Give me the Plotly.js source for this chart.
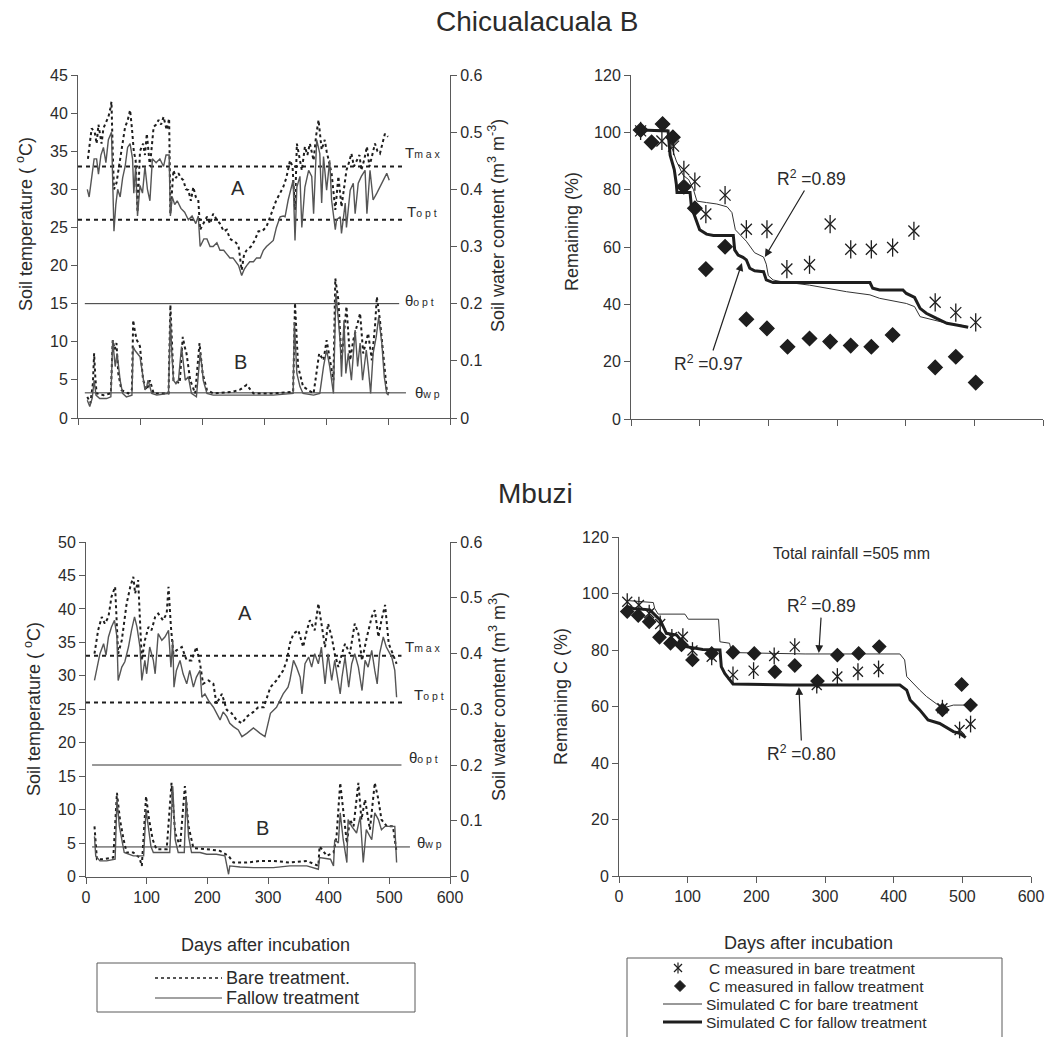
<!DOCTYPE html>
<html><head><meta charset="utf-8">
<script src="https://cdn.plot.ly/plotly-3.0.1.min.js"></script>
<style>html,body{margin:0;padding:0;background:#fff}</style>
</head><body>
<div id="chart" style="width:1049px;height:1037px"></div>
<script>
// ================= DATA =================
// Chicualacuala B - soil temperature (deg C), daily series
const cbTempFallowDays = [15,18,22,26,30,33,37,41,45,49,54,56,58,61,64,68,72,76,80,84,88,90,93,96,100,104,108,112,116,120,126,132,138,142,147,149,152,156,160,166,172,178,184,190,194,197,203,208,213,218,224,229,235,240,245,250,255,259,264,268,272,277,283,288,294,299,304,310,315,320,326,331,334,339,342,347,350,353,358,361,366,372,377,380,385,390,393,396,401,406,409,415,417,423,425,431,433,439,444,447,452,457,463,466,471,476,482,487,493,498,502];
const cbTempFallow = [30,29,31.5,34,34,32,34.5,35.5,33.5,36.5,37.5,30,24.5,28,30,29,31.5,33,35.5,36,34,29.5,33,26.5,30.5,29.5,33,30,28.5,34,33.5,34,33,34.5,34.5,26.5,29,28,28.5,27.5,27,26,26.5,25.5,26.5,22.5,23.5,23.5,22.5,22.5,23,22,22,21.5,21,21,20.5,20,18.7,19.5,20,20.5,20.5,21,21,22,22.5,23,23.3,25,26.4,26.5,26.4,28.6,29.5,31.2,23.3,30.3,31.7,25,30.3,32.5,31.7,26.8,36.5,34.7,28.2,34.3,29.9,33.8,28.6,24.7,26,26.4,24.2,28.2,25,29.9,30.8,26.8,30.8,31.7,32.5,26.8,32.5,28.6,29.5,30.3,31.2,32.1,31.2];
const cbTempBareDays = [16,20,22,27,30,33,38,41,44,49,52,54,56,58,62,65,68,72,76,80,84,87,90,93,96,100,105,108,111,116,119,122,126,130,134,138,143,147,149,152,154,158,162,166,170,174,178,182,186,190,194,197,202,208,213,218,224,229,235,240,245,250,255,259,264,268,272,279,285,291,297,304,310,315,320,326,331,336,342,346,350,353,357,361,366,370,374,377,380,384,388,393,398,401,404,409,415,420,425,429,433,437,441,445,450,454,457,462,466,470,474,479,483,487,491,495,500];
const cbTempBare = [34,36.5,38,37.5,36,38.5,36,38,38.5,39.5,40.5,41.5,35,30,30.8,32.5,34,36.5,38.2,39,40.4,38,35,33.8,27,35,36,34.5,37.3,33,36,38.2,38.5,39.1,38.5,39.5,37.8,39.3,26.8,31,32.5,31.5,32.1,31.5,31.2,30,29.9,28.5,30.3,29,28.6,24.7,25.5,26.4,25.5,26.8,26,25.5,24.5,24.7,23.5,23.3,23,22.5,19.4,21.5,22,22.5,23.3,24.5,24.5,25.1,26.5,27.5,28.6,29.5,30.3,31.5,33.8,33,27.3,36,34,32.5,35.6,34.5,36,35,33.8,37,39.1,35.2,36.5,35,33.8,32.1,27.3,31.7,27.7,30.5,32.5,33.5,34.7,33,33.8,34.5,32.5,34,35.6,33,34.3,36,35,34.7,36,37.3,36.9];
// Chicualacuala B - soil water content (m3 m-3)
const cbWaterFallowDays = [15,19,23,26,29,35,46,53,56,58,60,63,66,68,72,78,87,89,92,95,100,104,108,111,113,119,127,146,149,151,154,158,162,167,170,173,178,183,191,197,200,202,208,218,250,272,294,315,347,349,353,358,363,380,390,396,401,406,412,416,420,423,425,429,432,436,441,447,451,455,459,465,468,472,476,481,485,490,494,498,501];
const cbWaterFallow = [0.031,0.02,0.035,0.066,0.04,0.034,0.034,0.037,0.136,0.105,0.09,0.113,0.085,0.066,0.043,0.037,0.04,0.125,0.118,0.113,0.107,0.078,0.049,0.056,0.066,0.043,0.04,0.043,0.177,0.12,0.066,0.06,0.066,0.125,0.09,0.066,0.072,0.043,0.037,0.113,0.09,0.066,0.043,0.04,0.04,0.04,0.04,0.04,0.043,0.168,0.078,0.055,0.043,0.04,0.043,0.09,0.119,0.09,0.043,0.218,0.171,0.131,0.072,0.171,0.078,0.113,0.066,0.154,0.09,0.131,0.066,0.119,0.09,0.043,0.113,0.142,0.177,0.131,0.072,0.043,0.04];
const cbWaterBareDays = [15,20,24,26,28,30,41,53,56,59,62,65,70,81,87,89,92,95,98,100,105,111,116,122,146,149,152,154,164,169,172,175,181,189,196,199,201,208,218,250,262,272,283,315,347,350,355,363,380,389,396,401,406,412,415,420,425,433,439,444,455,460,468,474,479,482,487,493,498,501];
const cbWaterBare = [0.037,0.026,0.06,0.113,0.07,0.043,0.04,0.043,0.136,0.12,0.131,0.078,0.049,0.043,0.05,0.171,0.15,0.136,0.13,0.125,0.066,0.049,0.066,0.043,0.043,0.198,0.12,0.066,0.061,0.142,0.125,0.113,0.066,0.043,0.131,0.1,0.078,0.049,0.043,0.046,0.05,0.058,0.043,0.043,0.046,0.201,0.09,0.055,0.043,0.113,0.101,0.136,0.107,0.066,0.244,0.206,0.101,0.195,0.101,0.136,0.183,0.113,0.148,0.101,0.16,0.212,0.171,0.101,0.049,0.043];
// Chicualacuala B - thresholds
const cbTmax = 33, cbTopt = 26, cbThetaOpt = 0.2, cbThetaWp = 0.044;

// Mbuzi - soil temperature
const mbTempFallowDays = [14,18,23,29,33,37,42,47,51,53,59,64,70,75,80,84,89,92,97,100,105,111,114,119,125,130,136,140,143,145,149,155,160,166,171,177,182,188,191,196,202,210,215,221,226,232,237,243,251,257,265,276,287,295,304,314,325,333,336,342,347,353,356,361,367,372,377,383,388,394,399,405,410,416,419,422,427,433,438,443,449,455,460,465,471,476,480,484,490,495,504,509,512];
const mbTempFallow = [29.3,31.3,33.3,34.8,33.1,35.8,37.3,38.3,35.8,29.3,31.3,32.1,34.3,36.8,38.8,37.3,34.3,29.3,32.3,30.3,34.3,32.3,30.3,36.3,35.3,35.8,36.8,31.3,35.3,28.3,30.8,32.3,30.3,28.8,30.8,28.3,29.8,30.8,26.8,27.3,26.3,25.3,24.4,23.4,24.6,23.9,22.9,22.4,21.9,20.9,21.4,22.2,21.4,20.9,24.4,25.3,27.3,28.3,29.3,32.3,31.3,29.8,27.3,31.8,32.8,31.3,33.3,31.8,34.3,28.8,33.3,29.3,32.3,29.3,27.3,29.8,32.8,28.3,31.8,33.3,31.3,27.8,32.3,31.3,33.8,30.8,28.8,33.3,35.8,34.3,32.8,30.8,26.8];
const mbTempBareDays = [14,20,26,31,37,42,48,51,53,59,67,73,78,81,86,89,92,97,103,108,114,119,127,133,136,140,144,149,158,166,174,182,188,193,202,210,215,224,232,240,248,257,265,276,284,293,304,314,325,331,336,342,350,358,364,369,377,383,388,394,399,405,410,416,422,427,435,443,449,455,463,471,476,482,487,493,499,506,512];
const mbTempBare = [33.3,36.8,38.8,37.8,38.8,41.8,43.3,38.3,33.3,35.3,40.8,43.3,44.8,42.3,44.3,38.3,32.3,35.3,37.3,36.8,38.8,39.3,38.3,39.3,43.3,37.3,33.3,33.8,34.3,32.3,32.3,34.3,31.8,28.8,29.3,28.8,25.8,27.3,24.9,24.4,23.4,22.9,23.9,24.6,25.3,25.3,28.3,29.3,30.8,32.3,34.8,36.3,36.8,34.3,36.8,38.3,36.8,40.8,37.8,34.3,37.8,35.8,33.3,31.3,33.3,34.8,33.3,37.8,36.3,32.3,35.8,38.8,39.8,35.8,38.3,40.6,34.8,33.3,31.8];
// Mbuzi - soil water content
const mbWaterFallowDays = [14,16,23,34,48,51,55,59,63,78,95,99,103,107,111,122,138,143,147,152,162,165,169,174,188,199,215,229,235,237,254,276,309,336,364,383,385,403,408,410,416,419,424,430,432,438,446,452,457,462,471,476,482,487,493,509,512];
const mbWaterFallow = [0.072,0.037,0.028,0.028,0.031,0.138,0.09,0.066,0.043,0.037,0.037,0.12,0.084,0.054,0.043,0.043,0.043,0.162,0.066,0.043,0.043,0.144,0.072,0.043,0.043,0.04,0.04,0.037,0.004,0.019,0.017,0.016,0.016,0.019,0.019,0.013,0.034,0.031,0.019,0.066,0.06,0.114,0.066,0.025,0.102,0.09,0.078,0.108,0.025,0.084,0.066,0.114,0.102,0.084,0.09,0.09,0.025];
const mbWaterBareDays = [14,18,29,45,51,56,62,67,78,88,92,99,104,110,116,133,141,147,155,163,169,177,199,221,235,243,265,287,309,336,364,383,385,397,408,413,419,424,430,435,441,449,454,460,468,476,482,487,496,506,512];
const mbWaterBare = [0.09,0.031,0.031,0.034,0.15,0.102,0.066,0.043,0.043,0.034,0.019,0.144,0.102,0.066,0.049,0.049,0.168,0.078,0.054,0.162,0.09,0.051,0.049,0.046,0.037,0.025,0.025,0.028,0.028,0.025,0.028,0.019,0.054,0.037,0.043,0.072,0.168,0.114,0.06,0.102,0.09,0.168,0.102,0.138,0.084,0.168,0.138,0.102,0.09,0.09,0.043];
// Mbuzi - thresholds
const mbTmax = 33, mbTopt = 26, mbThetaOpt = 0.2, mbThetaWp = 0.053;

// Chicualacuala B - remaining (%)
const cbMeasBareDays = [14,45,62,77,93,109,137,168,198,227,260,290,320,350,381,412,443,473,502];
const cbMeasBare = [100.5,97,95.2,86.9,82.8,71.5,78.1,66.2,66.2,52.3,53.8,68,59.2,59.2,59.8,65.6,40.7,37.1,33.7];
const cbMeasFallowDays = [14,30,46,61,77,93,109,137,168,198,228,260,290,320,350,381,443,473,502];
const cbMeasFallow = [100.8,96.5,102.9,98.3,81,73.5,52.3,60.1,34.8,31.6,25.2,28.1,27,25.6,25.2,29.3,18,21.7,12.7];
const cbSimBareDays = [14,30,54,55,59,66,76,84,91,96,110,125,140,147,152,168,180,193,197,200,207,217,260,314,348,362,401,413,421,440,460,479,491];
const cbSimBare = [100.5,100.8,100.8,99,95,90,85,83.5,80,76,75.5,75,74,72,66,62,58,56.5,54,50,48.5,48,46.7,44.4,43.3,42.1,40.3,39.2,35.7,34.5,33.4,32.8,32.2];
const cbSimFallowDays = [14,54,57,63,66,67,86,88,93,100,110,120,149,151,156,163,168,173,180,193,197,207,348,352,362,396,401,413,421,430,445,460,474,491];
const cbSimFallow = [100.8,100.5,92,87,82,79,79,74,70.6,66,64.5,64,64,59,57.2,56.4,55.5,52.6,51.7,51.4,48.5,47.6,47.6,45.6,45,45,43.8,42.4,38.6,36.9,35.1,33.4,32.8,32];

// Mbuzi - remaining C (%)
const mbMeasBareDays = [12,29,44,60,77,93,107,135,166,196,226,256,288,318,348,378,471,496,512];
const mbMeasBare = [97.1,95.9,93,89.2,84.5,84.7,79.8,77.6,71.2,72.7,77.9,81.2,67.6,70.6,72.3,73.3,59.4,51.7,53.8];
const mbMeasFallowDays = [12,28,44,59,75,91,107,135,166,197,227,256,289,318,349,379,471,499,512];
const mbMeasFallow = [93.6,92.2,90,84.5,82.4,81.8,76.5,78.8,79.2,78.8,72.3,74.5,69,78.2,78.8,81.2,58.8,67.8,60.5];
const mbSimBareDays = [12,50,52,57,96,101,145,147,161,164,225,271,409,416,419,428,438,448,458,471,487,518];
const mbSimBare = [97.5,96.8,94.7,92.7,92.7,90.9,90.9,82.9,82.4,79.1,78.8,78.6,78.6,76.5,70.6,68.2,65.8,63.5,61.7,59.4,60.5,60.5];
const mbSimFallowDays = [12,21,45,60,69,84,98,122,147,149,154,166,249,409,419,424,438,450,467,487,496,505];
const mbSimFallow = [95.3,94.7,94.2,90.6,85.9,85.3,81.2,80.2,80,74.1,71.7,68,67.6,67.6,65.8,62.3,58.8,55.2,54,51.1,50.5,49];

// Fit statistics and other labels
const cbR2Bare = '0.89', cbR2Fallow = '0.97';
const mbR2Bare = '0.89', mbR2Fallow = '0.80';
const mbRainfall = 505;
const dayTicks = [0,100,200,300,400,500,600];

// ================= PRESENTATION =================
const FONT = '"Liberation Sans", Arial, Helvetica, sans-serif';
const TXT = '#2b2b2b';
const AX = '#5a5a5a';
const W = 1049, H = 1037;
const px = v => v / W, py = v => 1 - v / H;

function ax(extra) {
  return Object.assign({
    showline: true, linecolor: AX, linewidth: 1,
    ticks: 'outside', ticklen: 6, tickcolor: AX, tickwidth: 1,
    showgrid: false, zeroline: false, fixedrange: true,
    tickfont: {family: FONT, size: 16, color: TXT}
  }, extra);
}

const dotLine = {color: '#1e1e1e', width: 2, dash: 'dot'};
const solidLine = {color: '#555', width: 1.4};

function ln(x, y, xa, ya, line) {
  return {x: x, y: y, xaxis: xa, yaxis: ya, type: 'scatter', mode: 'lines', line: line, hoverinfo: 'skip'};
}
function mk(x, y, xa, ya, symbol, size) {
  return {x: x, y: y, xaxis: xa, yaxis: ya, type: 'scatter', mode: 'markers', hoverinfo: 'skip',
    marker: {symbol: symbol, size: size, color: '#1e1e1e', line: {color: '#1e1e1e', width: 1.3}}};
}

const traces = [
  // Chicualacuala B, left panel
  ln(cbTempBareDays, cbTempBare, 'x', 'y', dotLine),
  ln(cbTempFallowDays, cbTempFallow, 'x', 'y', solidLine),
  ln(cbWaterBareDays, cbWaterBare, 'x', 'y2', dotLine),
  ln(cbWaterFallowDays, cbWaterFallow, 'x', 'y2', solidLine),
  // Chicualacuala B, right panel
  ln(cbSimBareDays, cbSimBare, 'x2', 'y3', {color: '#333', width: 1}),
  ln(cbSimFallowDays, cbSimFallow, 'x2', 'y3', {color: '#1e1e1e', width: 3}),
  mk(cbMeasFallowDays, cbMeasFallow, 'x2', 'y3', 'diamond', 11),
  mk(cbMeasBareDays, cbMeasBare, 'x2', 'y3', 'x-thin-open', 11),
  mk(cbMeasBareDays, cbMeasBare, 'x2', 'y3', 'line-ns-open', 13),
  // Mbuzi, left panel
  ln(mbTempBareDays, mbTempBare, 'x3', 'y4', dotLine),
  ln(mbTempFallowDays, mbTempFallow, 'x3', 'y4', solidLine),
  ln(mbWaterBareDays, mbWaterBare, 'x3', 'y5', dotLine),
  ln(mbWaterFallowDays, mbWaterFallow, 'x3', 'y5', solidLine),
  // Mbuzi, right panel
  ln(mbSimBareDays, mbSimBare, 'x4', 'y6', {color: '#333', width: 1}),
  ln(mbSimFallowDays, mbSimFallow, 'x4', 'y6', {color: '#1e1e1e', width: 3}),
  mk(mbMeasFallowDays, mbMeasFallow, 'x4', 'y6', 'diamond', 10),
  mk(mbMeasBareDays, mbMeasBare, 'x4', 'y6', 'x-thin-open', 10),
  mk(mbMeasBareDays, mbMeasBare, 'x4', 'y6', 'line-ns-open', 12)
];

// threshold lines drawn in data coordinates
function hline(xa, ya, x0, x1, yv, line) {
  return {type: 'line', xref: xa, yref: ya, x0: x0, x1: x1, y0: yv, y1: yv, line: line, layer: 'below'};
}
const thrDot = {color: '#1e1e1e', width: 2, dash: '4px,4px'};
const thrSolid = {color: '#333', width: 1};

const shapes = [
  hline('x', 'y', 0, 524, cbTmax, thrDot),
  hline('x', 'y', 0, 524, cbTopt, thrDot),
  hline('x', 'y2', 11, 518, cbThetaOpt, thrSolid),
  hline('x', 'y2', 11, 529, cbThetaWp, thrSolid),
  hline('x3', 'y4', 0, 520, mbTmax, thrDot),
  hline('x3', 'y4', 0, 522, mbTopt, thrDot),
  hline('x3', 'y5', 10, 520, mbThetaOpt, thrSolid),
  hline('x3', 'y5', 10, 534, mbThetaWp, thrSolid)
];

// manual legends (paper coordinates from pixel positions)
function pl(x0, y0, x1, y1, line) {
  return {type: 'line', xref: 'paper', yref: 'paper', x0: px(x0), x1: px(x1), y0: py(y0), y1: py(y1), line: line};
}
const L1 = 968, L2 = 986, L3 = 1004, L4 = 1022;
shapes.push({type: 'rect', xref: 'paper', yref: 'paper', x0: px(97), x1: px(415), y0: py(1012), y1: py(963), line: {color: AX, width: 1}});
shapes.push(pl(155, 978, 222, 978, {color: '#1e1e1e', width: 1.6, dash: 'dot'}));
shapes.push(pl(155, 998, 222, 998, {color: '#444', width: 1.2}));
shapes.push({type: 'rect', xref: 'paper', yref: 'paper', x0: px(627), x1: px(1002), y0: py(1045), y1: py(958), line: {color: AX, width: 1}});
// asterisk sample
shapes.push(pl(674, L1 - 4, 682, L1 + 4, {color: '#1e1e1e', width: 1.2}));
shapes.push(pl(674, L1 + 4, 682, L1 - 4, {color: '#1e1e1e', width: 1.2}));
shapes.push(pl(678, L1 - 5.5, 678, L1 + 5.5, {color: '#1e1e1e', width: 1.2}));
// diamond sample
shapes.push({type: 'path', xref: 'paper', yref: 'paper',
  path: 'M' + px(680) + ',' + py(L2 - 5.5) + ' L' + px(685.5) + ',' + py(L2) + ' L' + px(680) + ',' + py(L2 + 5.5) + ' L' + px(674.5) + ',' + py(L2) + ' Z',
  fillcolor: '#1e1e1e', line: {color: '#1e1e1e', width: 1}});
shapes.push(pl(663, L3, 702, L3, {color: '#333', width: 1}));
shapes.push(pl(663, L4, 702, L4, {color: '#1e1e1e', width: 3}));

function txt(text, x, y, size, opts) {
  return Object.assign({text: text, xref: 'paper', yref: 'paper', x: px(x), y: py(y), showarrow: false,
    xanchor: 'center', yanchor: 'middle', font: {family: FONT, size: size, color: TXT}}, opts || {});
}
function sm(s) { return '<span style="font-size:10.5px">' + s + '</span>'; }
function r2(val, headX, headY, xa, ya, axPx, ayPx) {
  return {text: 'R<sup>2</sup> =' + val, xref: xa, yref: ya, x: headX, y: headY, ax: axPx, ay: ayPx,
    showarrow: true, arrowhead: 2, arrowsize: 1.3, arrowwidth: 1.2, arrowcolor: '#222',
    font: {family: FONT, size: 17.5, color: TXT}};
}

const annotations = [
  txt('Chicualacuala B', 537, 22, 28),
  txt('Mbuzi', 535, 493, 28),
  // axis titles
  txt('Soil temperature ( <sup>o</sup>C)', 24, 224, 18, {textangle: -90}),
  txt('Soil water content (m<sup>3</sup> m<sup>-3</sup>)', 496, 226, 18, {textangle: -90}),
  txt('Remaining (%)', 572, 232, 18, {textangle: -90}),
  txt('Soil temperature ( <sup>o</sup>C)', 32, 709, 18, {textangle: -90}),
  txt('Soil water content (m<sup>3</sup> m<sup>3</sup>)', 497, 697, 18, {textangle: -90}),
  txt('Remaining C (%)', 561, 697, 18, {textangle: -90}),
  txt('Days after incubation', 265, 945, 18),
  txt('Days after incubation', 808, 943, 18),
  // panel letters
  txt('A', 238, 188, 20), txt('B', 240, 362, 20),
  txt('A', 245, 613, 20), txt('B', 262, 828, 20),
  // threshold labels
  txt('T' + sm('m a x'), 403, 153, 15, {xanchor: 'left'}),
  txt('T' + sm('o p t'), 405, 212, 15, {xanchor: 'left'}),
  txt('\u03b8' + sm('o p t'), 403, 300, 15, {xanchor: 'left'}),
  txt('\u03b8' + sm('w p'), 413, 392, 15, {xanchor: 'left'}),
  txt('T' + sm('m a x'), 403, 646, 15, {xanchor: 'left'}),
  txt('T' + sm('o p t'), 412, 694, 15, {xanchor: 'left'}),
  txt('\u03b8' + sm('o p t'), 407, 757, 15, {xanchor: 'left'}),
  txt('\u03b8' + sm('w p'), 415, 842, 15, {xanchor: 'left'}),
  // rainfall note
  txt('Total rainfall =' + mbRainfall + ' mm', 851, 553, 16),
  // R2 annotations with arrows
  r2(cbR2Bare, 195, 56.5, 'x2', 'y3', 47, -79),
  r2(cbR2Fallow, 161.5, 54.4, 'x2', 'y3', -33, 100),
  r2(mbR2Bare, 291, 78.9, 'x4', 'y6', 3, -48),
  r2(mbR2Fallow, 262, 66.9, 'x4', 'y6', 3, 66),
  // legend texts
  txt('Bare treatment.', 224, 978, 18, {xanchor: 'left'}),
  txt('Fallow treatment', 224, 998, 18, {xanchor: 'left'}),
  txt('C measured in bare treatment', 707, L1, 15.5, {xanchor: 'left'}),
  txt('C measured in fallow treatment', 707, L2, 15.5, {xanchor: 'left'}),
  txt('Simulated C for bare treatment', 704, L3, 15.5, {xanchor: 'left'}),
  txt('Simulated C for fallow treatment', 704, L4, 15.5, {xanchor: 'left'})
];

const layout = {
  width: W, height: H, margin: {l: 0, r: 0, t: 0, b: 0},
  paper_bgcolor: '#fff', plot_bgcolor: 'rgba(0,0,0,0)',
  showlegend: false, hovermode: false,
  font: {family: FONT, color: TXT, size: 16},
  xaxis: ax({domain: [px(78), px(450)], range: [0, 600], tickvals: dayTicks, showticklabels: false, anchor: 'y'}),
  yaxis: ax({domain: [py(418), py(75)], range: [0, 45], tick0: 0, dtick: 5, anchor: 'x'}),
  yaxis2: ax({overlaying: 'y', side: 'right', range: [0, 0.6], tick0: 0, dtick: 0.1, anchor: 'x'}),
  xaxis2: ax({domain: [px(631), px(1043)], range: [0, 600], tickvals: dayTicks, showticklabels: false, anchor: 'y3'}),
  yaxis3: ax({domain: [py(419), py(75)], range: [0, 120], tick0: 0, dtick: 20, anchor: 'x2'}),
  xaxis3: ax({domain: [px(86), px(450)], range: [0, 600], tickvals: dayTicks, anchor: 'y4'}),
  yaxis4: ax({domain: [py(876.5), py(542)], range: [0, 50], tick0: 0, dtick: 5, anchor: 'x3'}),
  yaxis5: ax({overlaying: 'y4', side: 'right', range: [0, 0.6], tick0: 0, dtick: 0.1, anchor: 'x3'}),
  xaxis4: ax({domain: [px(619), px(1031)], range: [0, 600], tickvals: dayTicks, anchor: 'y6'}),
  yaxis6: ax({domain: [py(876), py(537)], range: [0, 120], tick0: 0, dtick: 20, anchor: 'x4'}),
  shapes: shapes,
  annotations: annotations
};

Plotly.newPlot('chart', traces, layout, {staticPlot: true, displayModeBar: false});
</script>
</body></html>
